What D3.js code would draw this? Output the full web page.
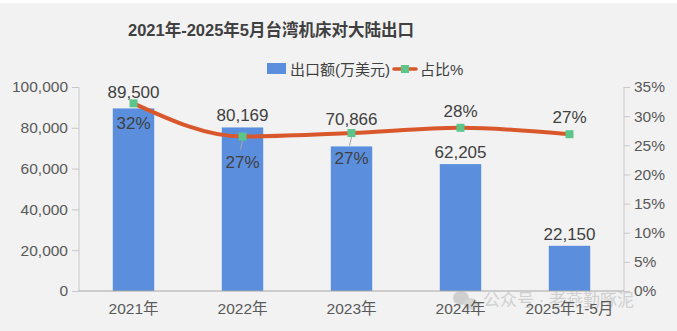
<!DOCTYPE html>
<html><head><meta charset="utf-8">
<script src="https://cdn.jsdelivr.net/npm/d3@7"></script>
<style>
html,body{margin:0;padding:0;background:#f2f2f2;}
svg{display:block;font-family:Arial,"Liberation Sans","Noto Sans CJK SC",sans-serif;}
</style></head>
<body>
<svg id="chart" width="677" height="331"></svg>
<script>
const categories = ["2021年","2022年","2023年","2024年","2025年1-5月"];
const exportValues = [89500, 80169, 70866, 62205, 22150];
const shareValues = [0.322, 0.265, 0.271, 0.280, 0.269];
const leftTicks = [0, 20000, 40000, 60000, 80000, 100000];
const rightTicks = [0, 0.05, 0.10, 0.15, 0.20, 0.25, 0.30, 0.35];
const title = "2021年-2025年5月台湾机床对大陆出口";
const seriesNames = ["出口额(万美元)", "占比%"];
const watermark = "公众号 · 老燕勤啄泥";
// label placement styles (not data)
const shareLabelSide = ["below","below","below","above","above"];
const valueLabelLift = [4, 0, 15, 0, 0];

const svg = d3.select("#chart");
svg.append("rect").attr("width",677).attr("height",331).attr("fill","#f2f2f2");
svg.append("rect").attr("width",677).attr("height",3).attr("fill","#ffffff");

const m = {left:79, right:624, top:87, bottom:291};
const x = d3.scaleBand().domain(categories).range([m.left, m.right]).paddingInner(0.62).paddingOuter(0.31);
const yL = d3.scaleLinear().domain([0,100000]).range([m.bottom, m.top]);
const yR = d3.scaleLinear().domain([0,0.35]).range([m.bottom, m.top]);

// title
svg.append("text").attr("x",271).attr("y",36).attr("text-anchor","middle")
  .attr("font-size",16.5).attr("font-weight","bold").attr("fill","#404040")
  .attr("font-family","'Liberation Sans Narrow',Arial,'Noto Sans CJK SC',sans-serif")
  .text(title);

// legend
const lg = svg.append("g");
lg.append("rect").attr("x",267).attr("y",63).attr("width",19).attr("height",11).attr("fill","#5b8fde");
lg.append("text").attr("x",290).attr("y",75).attr("font-size",15).attr("fill","#404040").text(seriesNames[0]);
lg.append("line").attr("x1",394).attr("x2",416).attr("y1",69).attr("y2",69).attr("stroke","#d9582b").attr("stroke-width",3.5).attr("stroke-linecap","round");
lg.append("rect").attr("x",401).attr("y",65).attr("width",8).attr("height",8).attr("fill","#5cc58a");
lg.append("text").attr("x",420).attr("y",75).attr("font-size",15).attr("fill","#404040").text(seriesNames[1]);

// axes
const axL = d3.axisLeft(yL).tickValues(leftTicks).tickSize(7).tickPadding(4).tickFormat(d3.format(","));
const gL = svg.append("g").attr("transform",`translate(${m.left},0)`).call(axL);
const axR = d3.axisRight(yR).tickValues(rightTicks).tickSize(6).tickPadding(4).tickFormat(d3.format(".0%"));
const gR = svg.append("g").attr("transform",`translate(${m.right},0)`).call(axR);
[gL,gR].forEach(g=>{
  g.select(".domain").attr("stroke","#c8c8c8");
  g.selectAll(".tick line").attr("stroke","#c8c8c8");
  g.selectAll(".tick text").attr("font-size",15.5).attr("fill","#595959").attr("font-family","Arial,'Liberation Sans',sans-serif");
});
gL.select(".domain").attr("d",`M0,${m.top}V${m.bottom}`);
gR.select(".domain").attr("d",`M0,${m.top}V${m.bottom}`);

// watermark
const wm = svg.append("g").attr("fill","#cfcfcf");
wm.append("ellipse").attr("cx",461).attr("cy",298).attr("rx",8).attr("ry",7);
wm.append("ellipse").attr("cx",471).attr("cy",304).attr("rx",7).attr("ry",6).attr("fill","#d6d6d6");
wm.append("text").attr("x",483).attr("y",306).attr("font-size",17).attr("fill","#d0d0d0").text(watermark);

// bars
svg.append("g").selectAll("rect").data(exportValues).join("rect")
  .attr("x",(d,i)=>x(categories[i])).attr("width",x.bandwidth())
  .attr("y",d=>yL(d)).attr("height",d=>yL(0)-yL(d)).attr("fill","#5b8fde");

// x axis
const axB = d3.axisBottom(x).tickSize(0).tickPadding(12);
const gB = svg.append("g").attr("transform",`translate(0,${m.bottom})`).call(axB);
gB.select(".domain").attr("stroke","#a6a6a6").attr("d",`M${m.left},0H${m.right}`);
gB.selectAll(".tick text").attr("font-size",15.5).attr("fill","#595959").attr("font-family","Arial,'Liberation Sans','Noto Sans CJK SC',sans-serif");

// bar value labels
svg.append("g").selectAll("text").data(exportValues).join("text")
  .attr("x",(d,i)=>x(categories[i])+x.bandwidth()/2)
  .attr("y",(d,i)=>yL(d)-6-valueLabelLift[i])
  .attr("text-anchor","middle").attr("font-size",17).attr("fill","#404040")
  .text(d=>d3.format(",")(d));

// line
const cx = (i)=>x(categories[i])+x.bandwidth()/2;
const line = d3.line().x((d,i)=>cx(i)).y(d=>yR(d)).curve(d3.curveMonotoneX);
svg.append("path").datum(shareValues).attr("d",line).attr("fill","none")
  .attr("stroke","#d9582b").attr("stroke-width",4).attr("stroke-linecap","round");

// leader lines for below labels
svg.append("g").selectAll("line").data(shareValues).join("line")
  .filter((d,i)=>i===1||i===2)
  .attr("x1",(d,i)=>cx(i+1)).attr("x2",(d,i)=>cx(i+1)-2)
  .attr("y1",d=>yR(d)+4).attr("y2",d=>yR(d)+13)
  .attr("stroke","#a6a6a6").attr("stroke-width",1);

svg.append("g").selectAll("rect").data(shareValues).join("rect")
  .attr("x",(d,i)=>cx(i)-4).attr("y",d=>yR(d)-4).attr("width",8).attr("height",8).attr("fill","#5cc58a");

// share labels
svg.append("g").selectAll("text").data(shareValues).join("text")
  .attr("x",(d,i)=>cx(i))
  .attr("y",(d,i)=>shareLabelSide[i]==="above" ? yR(d)-11 : yR(d)+(i===0?26:31))
  .attr("text-anchor","middle").attr("font-size",17).attr("fill","#404040")
  .text(d=>d3.format(".0%")(d));
</script>
</body></html>
